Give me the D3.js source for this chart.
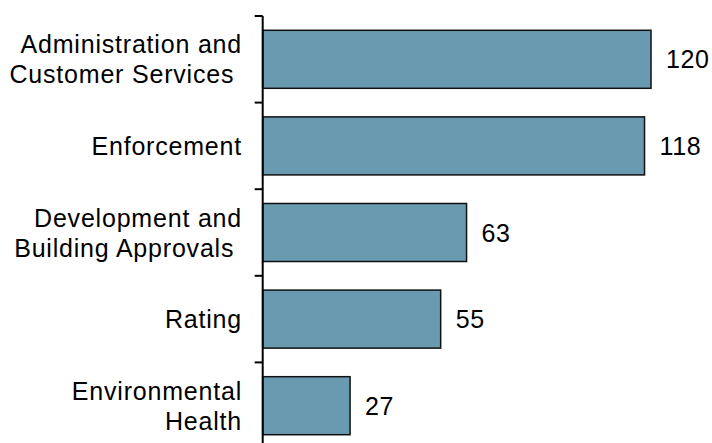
<!DOCTYPE html>
<html>
<head>
<meta charset="utf-8">
<script src="https://cdn.jsdelivr.net/npm/d3@7"></script>
<style>
  body { margin: 0; background: #fff; }
  text { font-family: "Liberation Sans", Arial, sans-serif; font-size: 25px; fill: #000; white-space: pre; }
  text.cat { letter-spacing: 0.8px; }
  text.val { letter-spacing: 0.6px; }
</style>
</head>
<body>
<svg id="chart" width="712" height="443"></svg>
<script>
// categories (top to bottom), label lines and values
var categories = ["admin", "enforcement", "development", "rating", "environmental"];
var labelLines = [
    ["Administration and", "Customer Services "],
    ["Enforcement"],
    ["Development and", "Building Approvals "],
    ["Rating"],
    ["Environmental", "Health"]
];
var values = [120, 118, 63, 55, 27];

var svg = d3.select("#chart"),
    axisX = 262.7;

var x = d3.scaleLinear()
    .domain([0, 120])
    .range([axisX, 651]);

var y = d3.scaleBand()
    .domain(categories)
    .range([16, 449])
    .paddingInner(0.33)
    .paddingOuter(0.165);

// bars
svg.selectAll("rect.bar")
    .data(values)
    .enter().append("rect")
    .attr("class", "bar")
    .attr("x", x(0))
    .attr("y", function (d, i) { return y(categories[i]); })
    .attr("width", function (d) { return x(d) - x(0); })
    .attr("height", y.bandwidth())
    .attr("fill", "#6a9ab0")
    .attr("stroke", "#111")
    .attr("stroke-width", 1.5);

// value labels
svg.selectAll("text.val")
    .data(values)
    .enter().append("text")
    .attr("class", "val")
    .attr("x", function (d) { return x(d) + 15; })
    .attr("y", function (d, i) { return y(categories[i]) + y.bandwidth() / 2; })
    .attr("dy", "0.36em")
    .text(function (d) { return d; });

// axis line with ticks at band boundaries
var r = y.range();
svg.append("line")
    .attr("x1", axisX).attr("x2", axisX)
    .attr("y1", r[0]).attr("y2", r[1])
    .attr("stroke", "#000").attr("stroke-width", 2);

var bounds = d3.range(categories.length + 1).map(function (i) { return r[0] + i * y.step(); });
svg.selectAll("line.tick")
    .data(bounds)
    .enter().append("line")
    .attr("class", "tick")
    .attr("x1", axisX - 8).attr("x2", axisX)
    .attr("y1", function (d) { return d; })
    .attr("y2", function (d) { return d; })
    .attr("stroke", "#000").attr("stroke-width", 2);

// category labels
var lineH = 30;
var gLab = svg.selectAll("text.cat")
    .data(categories)
    .enter().append("text")
    .attr("class", "cat")
    .attr("text-anchor", "end");

gLab.each(function (c, i) {
    var lines = labelLines[i],
        cy = y(c) + y.bandwidth() / 2,
        top = cy - (lines.length - 1) * lineH / 2;
    d3.select(this).selectAll("tspan")
        .data(lines)
        .enter().append("tspan")
        .attr("x", 242)
        .attr("y", function (l, j) { return top + j * lineH; })
        .attr("dy", "0.36em")
        .text(function (l) { return l; });
});
</script>
</body>
</html>
